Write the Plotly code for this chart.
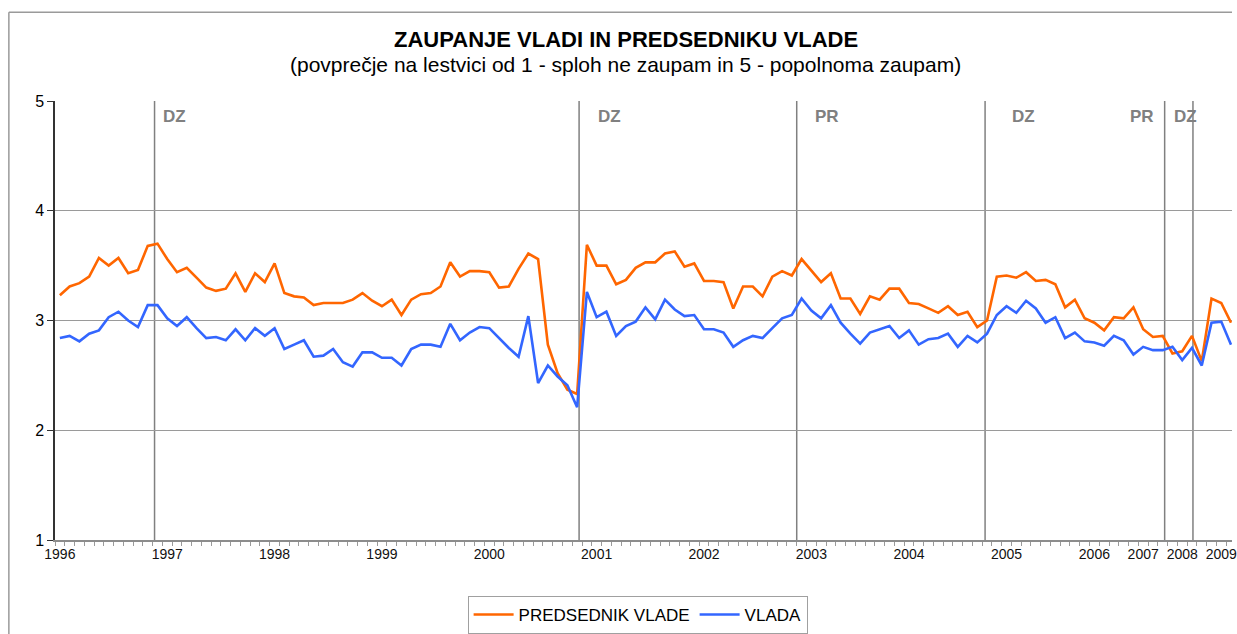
import plotly.graph_objects as go

# ---- data ----
predsednik_vlade = [
    3.23, 3.31, 3.34, 3.40, 3.57, 3.50, 3.57, 3.43, 3.46, 3.68,
    3.70, 3.56, 3.44, 3.48, 3.39, 3.30, 3.27, 3.29, 3.43, 3.26,
    3.43, 3.35, 3.52, 3.25, 3.22, 3.21, 3.14, 3.16, 3.16, 3.16,
    3.19, 3.25, 3.18, 3.13, 3.19, 3.05, 3.19, 3.24, 3.25, 3.31,
    3.53, 3.40, 3.45, 3.45, 3.44, 3.30, 3.31, 3.47, 3.61, 3.56,
    2.78, 2.52, 2.37, 2.33, 3.69, 3.50, 3.50, 3.33, 3.37, 3.48,
    3.53, 3.53, 3.61, 3.63, 3.49, 3.52, 3.36, 3.36, 3.35, 3.11,
    3.31, 3.31, 3.22, 3.40, 3.45, 3.41, 3.56, 3.46, 3.35, 3.43,
    3.20, 3.20, 3.06, 3.22, 3.19, 3.29, 3.29, 3.16, 3.15, 3.11,
    3.07, 3.13, 3.05, 3.08, 2.94, 3.00, 3.40, 3.41, 3.39, 3.44,
    3.36, 3.37, 3.33, 3.12, 3.19, 3.02, 2.98, 2.91, 3.03, 3.02,
    3.12, 2.92, 2.85, 2.86, 2.70, 2.72, 2.86, 2.63, 3.20, 3.16,
    2.98,
]
vlada = [
    2.84, 2.86, 2.81, 2.88, 2.91, 3.03, 3.08, 3.00, 2.94, 3.14,
    3.14, 3.02, 2.95, 3.03, 2.93, 2.84, 2.85, 2.82, 2.92, 2.82,
    2.93, 2.86, 2.93, 2.74, 2.78, 2.82, 2.67, 2.68, 2.74, 2.62,
    2.58, 2.71, 2.71, 2.66, 2.66, 2.59, 2.74, 2.78, 2.78, 2.76,
    2.97, 2.82, 2.89, 2.94, 2.93, 2.84, 2.75, 2.67, 3.04, 2.43,
    2.59, 2.49, 2.41, 2.21, 3.26, 3.03, 3.08, 2.86, 2.95, 2.99,
    3.12, 3.01, 3.19, 3.10, 3.04, 3.05, 2.92, 2.92, 2.89, 2.76,
    2.82, 2.86, 2.84, 2.93, 3.02, 3.05, 3.20, 3.09, 3.02, 3.14,
    2.98, 2.88, 2.79, 2.89, 2.92, 2.95, 2.84, 2.91, 2.78, 2.83,
    2.84, 2.88, 2.76, 2.86, 2.80, 2.88, 3.05, 3.13, 3.07, 3.18,
    3.11, 2.98, 3.03, 2.84, 2.89, 2.81, 2.80, 2.77, 2.86, 2.82,
    2.69, 2.76, 2.73, 2.73, 2.76, 2.64, 2.75, 2.59, 2.98, 2.99,
    2.78,
]
period_index = list(range(len(vlada)))

year_labels = ["1996", "1997", "1998", "1999", "2000", "2001", "2002",
               "2003", "2004", "2005", "2006", "2007", "2008", "2009"]
year_index = [0, 11, 22, 33, 44, 55, 66, 77, 87, 97, 106, 111, 115, 119]

event_labels = ["DZ", "DZ", "PR", "DZ", "PR", "DZ"]
event_index = [9.7, 53.2, 75.5, 94.8, 113.2, 116.1]
event_label_index = [10.4, 54.9, 77.2, 97.4, 109.4, 114.0]

# ---- figure ----
FONT = "Liberation Sans, Arial, sans-serif"
fig = go.Figure()
fig.add_trace(go.Scatter(x=period_index, y=predsednik_vlade, mode="lines",
                         name="PREDSEDNIK VLADE",
                         line=dict(color="#FF6600", width=2.6)))
fig.add_trace(go.Scatter(x=period_index, y=vlada, mode="lines",
                         name="VLADA",
                         line=dict(color="#3366FF", width=2.6)))

shapes = []
for xv in event_index:
    shapes.append(dict(type="line", xref="x", yref="y", x0=xv, x1=xv, y0=1, y1=5,
                       line=dict(color="#808080", width=1.5), layer="below"))
# outer chart frame
shapes.append(dict(type="line", xref="paper", yref="paper", x0=-0.0392, x1=1.0,
                   y0=1.2023, y1=1.2023, line=dict(color="#9a9a9a", width=1.5)))
shapes.append(dict(type="line", xref="paper", yref="paper", x0=-0.0392, x1=-0.0392,
                   y0=-0.22, y1=1.2023, line=dict(color="#9a9a9a", width=1.5)))

annotations = []
for lab, xv in zip(event_labels, event_label_index):
    annotations.append(dict(x=xv, y=4.965, xref="x", yref="y", text="<b>" + lab + "</b>",
                            showarrow=False, xanchor="left", yanchor="top",
                            font=dict(family=FONT, size=17, color="#808080")))
annotations.append(dict(x=0.485, y=1.139, xref="paper", yref="paper",
                        text="<b>ZAUPANJE VLADI IN PREDSEDNIKU VLADE</b>",
                        showarrow=False, xanchor="center", yanchor="middle",
                        font=dict(family=FONT, size=22, color="#000000")))
annotations.append(dict(x=0.485, y=1.084, xref="paper", yref="paper",
                        text="(povprečje na lestvici od 1 - sploh ne zaupam in 5 - popolnoma zaupam)",
                        showarrow=False, xanchor="center", yanchor="middle",
                        font=dict(family=FONT, size=21, color="#000000")))

fig.update_layout(
    width=1237, height=634,
    margin=dict(l=55, r=0, t=101, b=93),
    paper_bgcolor="white", plot_bgcolor="white",
    font=dict(family=FONT, color="#000000"),
    showlegend=True,
    legend=dict(orientation="h", x=0.495, xanchor="center", y=-0.128, yanchor="top",
                bordercolor="#a0a0a0", borderwidth=1, bgcolor="white",
                font=dict(family=FONT, size=17), itemwidth=40),
    shapes=shapes,
    annotations=annotations,
    hovermode=False,
)
fig.update_xaxes(
    range=[-0.5, 120.1], tickmode="array", tickvals=year_index, ticktext=year_labels,
    ticks="", tickfont=dict(family=FONT, size=14, color="#111111"),
    ticklabeloverflow="allow",
    showgrid=False, zeroline=False, showline=True, linecolor="#8c8c8c", linewidth=1.5,
    minor=dict(ticks="outside", ticklen=4, tickcolor="#9a9a9a", tickmode="linear",
               tick0=-0.5, dtick=1, showgrid=False),
)
fig.update_yaxes(
    range=[1, 5], tickmode="linear", tick0=1, dtick=1,
    ticks="outside", ticklen=6, tickcolor="#333333",
    tickfont=dict(family=FONT, size=16, color="#000000"),
    showgrid=True, gridcolor="#9a9a9a", gridwidth=1,
    zeroline=False, showline=True, linecolor="#333333", linewidth=1.5,
)

fig.write_html(
    "out.html",
    config={"displayModeBar": False},
    post_script="document.body.style.margin='0';document.body.style.overflow='hidden';",
)
